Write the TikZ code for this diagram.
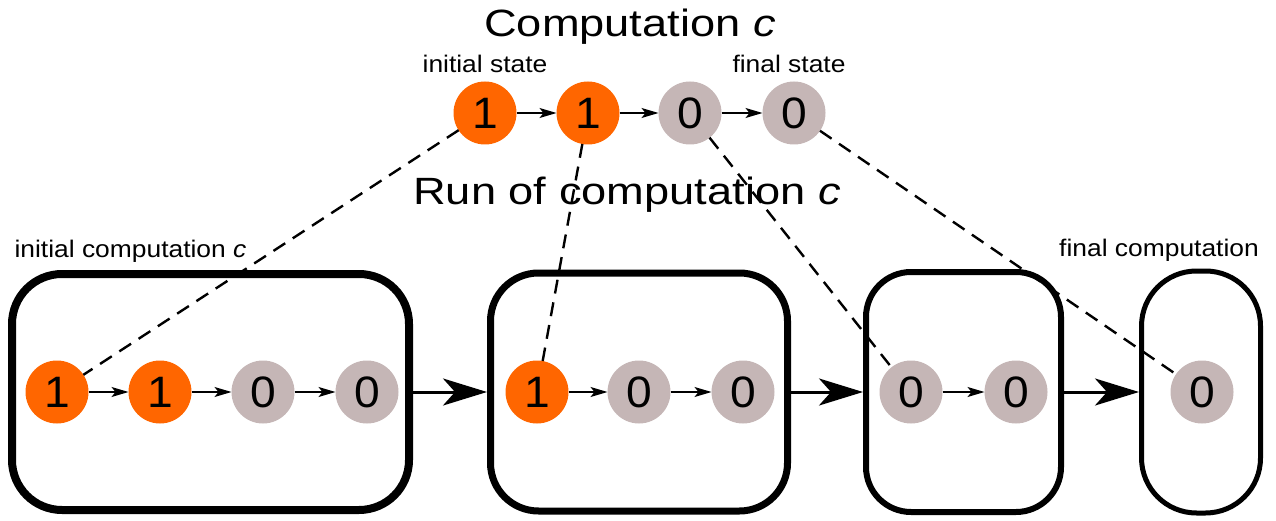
\documentclass[tikz,border=0pt]{standalone}
\usepackage{fontspec}
\setmainfont{Liberation Sans}
\usetikzlibrary{arrows.meta}
\definecolor{stone}{RGB}{255,102,0}
\definecolor{stzero}{RGB}{197,182,182}
\newcommand\sx[2]{\scalebox{#1}[1]{#2}}
\begin{document}
\begin{tikzpicture}[x=1pt,y=-1pt,
  one/.style={circle,fill=stone,minimum size=63pt,inner sep=0pt,outer sep=0pt,font=\fontsize{44}{44}\selectfont},
  zero/.style={one,fill=stzero},
  sm/.style={-{Stealth[length=17pt,width=10pt,inset=4pt]},line width=1.2pt},
  big/.style={-{Stealth[length=44pt,width=27pt,inset=12pt]},line width=3pt},
  link/.style={dash pattern=on 14pt off 9pt,line width=2.4pt},
  lbl/.style={anchor=base,font=\fontsize{24}{24}\selectfont,inner sep=0pt},
  title/.style={anchor=base,font=\fontsize{38}{38}\selectfont,inner sep=0pt},
  box/.style={draw,inner sep=0pt}]
\useasboundingbox (0,0) rectangle (1276,521);
% titles and labels
\node[title] (t1) at (630,37) {\sx{1.19}{Computation \textit{c}}};
\node[lbl] (is) at (485,73) {\sx{1.1}{initial state}};
\node[lbl] (fs) at (789,73) {\sx{1.1}{final state}};
\node[title] (t2) at (627,205) {\sx{1.19}{Run of computation \textit{c}}};
\node[lbl] (ic) at (130.5,258) {\sx{1.1}{initial computation \textit{c}}};
\node[lbl] (fc) at (1159,257) {\sx{1.1}{final computation}};
% top computation
\node[one] (a1) at (485,113) {\sx{1.05}{1}};
\node[one] (a2) at (588,113) {\sx{1.05}{1}};
\node[zero] (a3) at (690,113) {\sx{1.05}{0}};
\node[zero] (a4) at (794,113) {\sx{1.05}{0}};
\draw[sm] (a1) -- (a2);
\draw[sm] (a2) -- (a3);
\draw[sm] (a3) -- (a4);
% boxes
\node[box,line width=8pt,rounded corners=50pt,minimum width=397pt,minimum height=236pt] (b1) at (210.5,392) {};
\node[box,line width=7pt,rounded corners=48pt,minimum width=297pt,minimum height=238pt] (b2) at (639,392) {};
\node[box,line width=6pt,rounded corners=45pt,minimum width=195pt,minimum height=240pt] (b3) at (963.5,392) {};
\node[box,line width=5pt,rounded corners=55pt,minimum width=119pt,minimum height=242pt] (b4) at (1201,392) {};
% box contents
\node[one] (c11) at (57,392) {\sx{1.05}{1}};
\node[one] (c12) at (160,392) {\sx{1.05}{1}};
\node[zero] (c13) at (263,392) {\sx{1.05}{0}};
\node[zero] (c14) at (367,392) {\sx{1.05}{0}};
\draw[sm] (c11) -- (c12);
\draw[sm] (c12) -- (c13);
\draw[sm] (c13) -- (c14);
\node[one] (c21) at (537,392) {\sx{1.05}{1}};
\node[zero] (c22) at (639,392) {\sx{1.05}{0}};
\node[zero] (c23) at (743,392) {\sx{1.05}{0}};
\draw[sm] (c21) -- (c22);
\draw[sm] (c22) -- (c23);
\node[zero] (c31) at (911,392) {\sx{1.05}{0}};
\node[zero] (c32) at (1016,392) {\sx{1.05}{0}};
\draw[sm] (c31) -- (c32);
\node[zero] (c41) at (1202,392) {\sx{1.05}{0}};
% run arrows
\draw[big] (b1) -- (b2);
\draw[big] (b2) -- (b3);
\draw[big] (b3) -- (b4);
% correspondence links
\draw[link] (a1) -- (c11);
\draw[link] (a2) -- (c21);
\draw[link] (a3) -- (c31);
\draw[link] (a4) -- (c41);
\end{tikzpicture}
\end{document}
